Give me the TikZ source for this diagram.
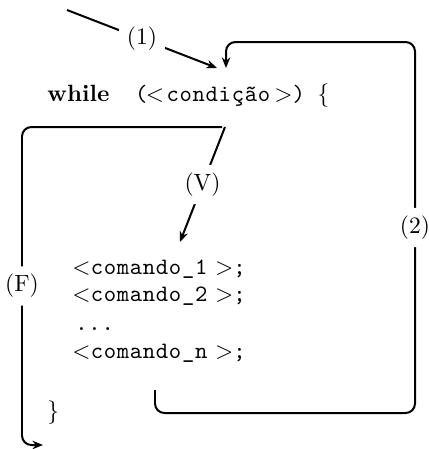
\documentclass[tikz,border=0pt]{standalone}
\usepackage{fontspec}
\setmonofont[LetterSpace=3]{Latin Modern Mono}
\usetikzlibrary{arrows.meta}
\begin{document}
\begin{tikzpicture}[x=0.4255pt,y=-0.4255pt,
  conn/.style={line width=0.85pt, rounded corners=4pt},
  tip/.style={-{Stealth[length=4.5pt,width=3.6pt]}},
  lbl/.style={fill=white},
  txt/.style={anchor=base west, inner sep=0pt}]
\useasboundingbox (0,0) rectangle (428,449);

% text
\node[txt] (wh) at (47,101) {\textbf{while}\hspace{11pt}\texttt{(}\hspace{-1pt}$<$\hspace{1pt}\texttt{condição}\hspace{1.5pt}$>$\texttt{)}\hspace{5pt}\{};
\node[txt] (c1) at (72,274) {$<$\texttt{comando\_1}\hspace{3pt}$>$\texttt{;}};
\node[txt] (c2) at (72,301) {$<$\texttt{comando\_2}\hspace{3pt}$>$\texttt{;}};
\node[txt] (dd) at (75,330) {\texttt{...}};
\node[txt] (cn) at (72,358) {$<$\texttt{comando\_n}\hspace{3pt}$>$\texttt{;}};
\node[txt] (rb) at (47,418) {\}};

% coordinates
\coordinate (s1) at (67,10);
\coordinate (e1) at (217,68);
\coordinate (s2) at (155,390);
\coordinate (c2a) at (415,413);
\coordinate (c2b) at (415,42);
\coordinate (e2) at (226,68);
\coordinate (sV) at (225,127);
\coordinate (eV) at (180,242);
\coordinate (sF) at (222,127);
\coordinate (cFa) at (22,127);
\coordinate (cFb) at (22,445);
\coordinate (eF) at (43,445);

% connectors
\draw[conn,tip] (s1) -- node[lbl]{(1)} (e1);
\draw[conn,tip] (s2) |- (c2a) -- node[lbl]{(2)} (c2b) -| (e2);
\draw[conn,tip] (sV) -- node[lbl]{(V)} (eV);
\draw[conn,tip] (sF) -- (cFa) -- node[lbl]{(F)} (cFb) -- (eF);
\end{tikzpicture}
\end{document}
